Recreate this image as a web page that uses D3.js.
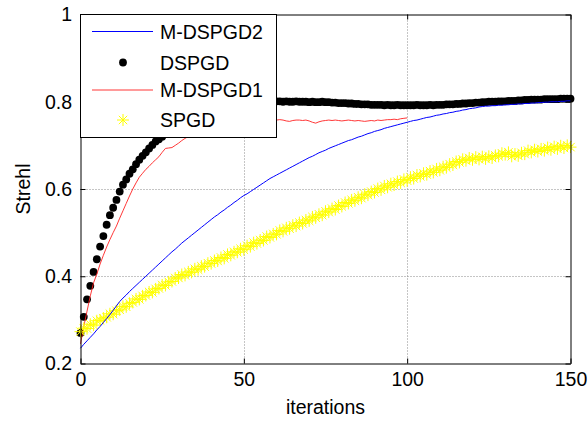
<!DOCTYPE html>
<html><head><meta charset="utf-8">
<script src="https://cdn.jsdelivr.net/npm/d3@7"></script>
<style>
html,body{margin:0;padding:0;background:#fff;}
svg{display:block;font-family:"Liberation Sans",Arial,sans-serif;}
</style></head>
<body>
<svg id="chart" width="588" height="422"></svg>
<script>
const seriesNames = ["M-DSPGD2", "DSPGD", "M-DSPGD1", "SPGD"];
const xTicks = [0, 50, 100, 150];
const yTicks = [0.2, 0.4, 0.6, 0.8, 1];
const yTickLabels = ["0.2", "0.4", "0.6", "0.8", "1"];

// M-DSPGD2, iterations 0..150
const mdspgd2 = [0.235,0.244,0.252,0.26,0.268,0.277,0.285,0.294,0.303,0.312,
0.322,0.332,0.342,0.35,0.357,0.365,0.372,0.379,0.386,0.393,
0.4,0.407,0.414,0.421,0.428,0.435,0.442,0.449,0.456,0.462,
0.469,0.476,0.482,0.488,0.494,0.5,0.506,0.512,0.518,0.524,
0.53,0.536,0.541,0.547,0.552,0.558,0.563,0.569,0.574,0.58,
0.585,0.589,0.594,0.599,0.604,0.609,0.614,0.619,0.624,0.628,
0.632,0.636,0.64,0.644,0.648,0.652,0.656,0.66,0.664,0.668,
0.672,0.675,0.679,0.683,0.686,0.689,0.693,0.696,0.699,0.702,
0.705,0.708,0.711,0.713,0.716,0.719,0.721,0.724,0.727,0.729,
0.732,0.734,0.736,0.739,0.741,0.743,0.745,0.747,0.749,0.751,
0.753,0.755,0.757,0.758,0.76,0.762,0.764,0.765,0.767,0.769,
0.77,0.772,0.773,0.775,0.776,0.778,0.779,0.781,0.782,0.784,
0.785,0.786,0.788,0.789,0.79,0.79,0.791,0.791,0.792,0.792,
0.793,0.793,0.794,0.794,0.795,0.795,0.796,0.796,0.797,0.797,
0.798,0.798,0.799,0.799,0.8,0.8,0.8,0.801,0.801,0.802,0.802];

// DSPGD, iterations 0..150
const dspgd = [0.27,0.307,0.347,0.378,0.41,0.439,0.468,0.492,0.518,0.54,
0.557,0.575,0.594,0.61,0.622,0.635,0.645,0.657,0.667,0.676,
0.684,0.693,0.701,0.709,0.714,0.72,0.726,0.731,0.736,0.741,
0.746,0.75,0.754,0.758,0.762,0.765,0.768,0.771,0.774,0.777,
0.779,0.781,0.783,0.785,0.787,0.789,0.791,0.792,0.794,0.795,
0.796,0.797,0.798,0.798,0.799,0.799,0.8,0.8,0.8,0.801,
0.801,0.801,0.8,0.801,0.8,0.8,0.801,0.8,0.8,0.8,
0.799,0.8,0.799,0.799,0.8,0.799,0.799,0.798,0.798,0.797,
0.797,0.797,0.796,0.796,0.795,0.795,0.794,0.794,0.794,0.793,
0.793,0.793,0.793,0.792,0.793,0.792,0.792,0.793,0.792,0.792,
0.792,0.792,0.792,0.793,0.792,0.792,0.792,0.793,0.792,0.793,
0.793,0.793,0.794,0.794,0.794,0.795,0.795,0.796,0.796,0.797,
0.797,0.798,0.798,0.799,0.799,0.8,0.8,0.8,0.801,0.801,
0.801,0.802,0.802,0.802,0.803,0.803,0.804,0.804,0.805,0.805,
0.805,0.805,0.806,0.806,0.806,0.806,0.806,0.807,0.807,0.807,0.807];

// M-DSPGD1, iterations 0..100
const mdspgd1 = [0.245,0.285,0.32,0.355,0.385,0.405,0.428,0.448,0.467,0.484,
0.5,0.515,0.533,0.55,0.567,0.584,0.6,0.614,0.627,0.636,
0.645,0.652,0.66,0.667,0.674,0.684,0.693,0.694,0.695,0.7,
0.705,0.711,0.716,0.72,0.723,0.726,0.729,0.732,0.735,0.737,
0.739,0.741,0.743,0.745,0.746,0.748,0.749,0.75,0.751,0.752,
0.753,0.754,0.754,0.755,0.756,0.756,0.757,0.757,0.757,0.758,
0.758,0.759,0.758,0.756,0.755,0.757,0.758,0.758,0.757,0.758,
0.756,0.753,0.751,0.754,0.756,0.757,0.758,0.757,0.758,0.757,
0.756,0.757,0.758,0.757,0.756,0.757,0.756,0.755,0.756,0.757,
0.756,0.758,0.757,0.758,0.759,0.759,0.76,0.759,0.761,0.762,0.763];

// SPGD, iterations 0..150
const spgd = [0.273,0.281,0.28,0.29,0.288,0.298,0.299,0.304,0.306,0.314,
0.313,0.321,0.323,0.331,0.33,0.338,0.34,0.348,0.347,0.355,
0.356,0.364,0.363,0.371,0.372,0.38,0.379,0.387,0.388,0.396,
0.396,0.404,0.402,0.41,0.409,0.417,0.415,0.423,0.422,0.43,
0.429,0.436,0.435,0.443,0.441,0.45,0.448,0.456,0.455,0.463,
0.461,0.47,0.468,0.477,0.475,0.483,0.482,0.491,0.489,0.497,
0.496,0.505,0.503,0.511,0.509,0.517,0.515,0.523,0.521,0.529,
0.527,0.536,0.534,0.542,0.54,0.549,0.547,0.555,0.553,0.562,
0.56,0.569,0.567,0.575,0.573,0.581,0.579,0.588,0.586,0.594,
0.592,0.601,0.598,0.607,0.604,0.612,0.609,0.617,0.614,0.622,
0.619,0.627,0.624,0.632,0.629,0.636,0.633,0.641,0.638,0.646,
0.643,0.651,0.649,0.657,0.655,0.663,0.661,0.668,0.665,0.671,
0.667,0.673,0.668,0.674,0.669,0.675,0.671,0.677,0.675,0.682,
0.679,0.684,0.675,0.68,0.676,0.683,0.68,0.688,0.684,0.69,
0.686,0.692,0.688,0.695,0.69,0.697,0.692,0.699,0.694,0.7,0.696];

const svg = d3.select("#chart");
const L = 80.5, R = 570.5, T = 14.5, B = 363.5;
const x = d3.scaleLinear().domain([0, 150]).range([L, R]);
const y = d3.scaleLinear().domain([0.2, 1]).range([B, T]);
const FS = 19.5;
const FF = '"Liberation Sans", Arial, sans-serif';

// grid
const grid = svg.append("g").attr("stroke", "#8a8a8a").attr("stroke-width", 1).attr("stroke-dasharray", "1,2");
grid.selectAll("line.gx").data(xTicks.filter(d => d > 0 && d < 150)).join("line")
  .attr("x1", d => Math.round(x(d)) + 0.5).attr("x2", d => Math.round(x(d)) + 0.5).attr("y1", T).attr("y2", B);
grid.selectAll("line.gy").data(yTicks.filter(d => d > 0.2 && d < 1)).join("line")
  .attr("y1", d => Math.round(y(d)) + 0.5).attr("y2", d => Math.round(y(d)) + 0.5).attr("x1", L).attr("x2", R);

const plot = svg.append("g");
const idx = a => a.map((v, i) => [i, v]);

// DSPGD dots
plot.append("g").selectAll("circle").data(idx(dspgd)).join("circle")
  .attr("cx", d => x(d[0])).attr("cy", d => y(d[1])).attr("r", 3.9).attr("fill", "#000");

// M-DSPGD1
const line = d3.line().x(d => x(d[0])).y(d => y(d[1]));
plot.append("path").attr("d", line(idx(mdspgd1))).attr("fill", "none").attr("stroke", "#ff2020").attr("stroke-width", 0.9);

// SPGD asterisks
const star = (s) => `M${-s},0H${s}M0,${-s}V${s}M${-s*0.7},${-s*0.7}L${s*0.7},${s*0.7}M${-s*0.7},${s*0.7}L${s*0.7},${-s*0.7}`;
plot.append("g").selectAll("path").data(idx(spgd)).join("path")
  .attr("transform", d => `translate(${x(d[0])},${y(d[1])})`)
  .attr("d", star(6)).attr("fill", "none").attr("stroke", "#ffff00").attr("stroke-width", 1);

// M-DSPGD2
plot.append("path").attr("d", line(idx(mdspgd2))).attr("fill", "none").attr("stroke", "#0000ff").attr("stroke-width", 1);

// axes
const axStyle = g => { g.selectAll("path.domain").attr("stroke", "#000").attr("stroke-width", 1);
  g.selectAll(".tick line").attr("stroke", "#000");
  g.selectAll("text").attr("font-size", FS).attr("fill", "#000").attr("font-family", FF); };
svg.append("g").attr("transform", `translate(0,${B})`)
  .call(d3.axisBottom(x).tickValues(xTicks).tickSizeInner(-5).tickSizeOuter(0).tickPadding(9)).call(axStyle);
svg.append("g").attr("transform", `translate(0,${T})`)
  .call(d3.axisTop(x).tickValues(xTicks).tickSizeInner(-5).tickSizeOuter(0).tickFormat("")).call(axStyle);
svg.append("g").attr("transform", `translate(${L},0)`)
  .call(d3.axisLeft(y).tickValues(yTicks).tickFormat((d, i) => yTickLabels[i]).tickSizeInner(-5).tickSizeOuter(0).tickPadding(8.5)).call(axStyle);
svg.append("g").attr("transform", `translate(${R},0)`)
  .call(d3.axisRight(y).tickValues(yTicks).tickSizeInner(-5).tickSizeOuter(0).tickFormat("")).call(axStyle);

// axis labels
svg.append("text").attr("x", (L + R) / 2).attr("y", 414).attr("text-anchor", "middle")
  .attr("font-size", FS).attr("font-family", FF).text("iterations");
svg.append("text").attr("transform", `translate(30,${(T + B) / 2}) rotate(-90)`).attr("text-anchor", "middle")
  .attr("font-size", FS).attr("font-family", FF).text("Strehl");

// legend
const lg = svg.append("g");
lg.append("rect").attr("x", 80.5).attr("y", 14.5).attr("width", 196).attr("height", 123)
  .attr("fill", "#fff").attr("stroke", "#000").attr("stroke-width", 1);
const rows = [31.5, 62.5, 90, 120];
const lx1 = 92, lx2 = 153, lxm = 123, tx = 160;
lg.append("line").attr("x1", lx1).attr("x2", lx2).attr("y1", rows[0]).attr("y2", rows[0]).attr("stroke", "#0000ff").attr("stroke-width", 1);
lg.append("circle").attr("cx", lxm).attr("cy", rows[1]).attr("r", 3.9).attr("fill", "#000");
lg.append("line").attr("x1", lx1).attr("x2", lx2).attr("y1", rows[2]).attr("y2", rows[2]).attr("stroke", "#ff2020").attr("stroke-width", 0.9);
lg.append("path").attr("transform", `translate(${lxm},${rows[3]})`).attr("d", star(6)).attr("fill", "none").attr("stroke", "#ffff00");
lg.selectAll("text").data(seriesNames).join("text")
  .attr("x", tx).attr("y", (d, i) => rows[i]).attr("dy", "0.36em").attr("font-size", FS).attr("font-family", FF).text(d => d);
</script>
</body></html>
